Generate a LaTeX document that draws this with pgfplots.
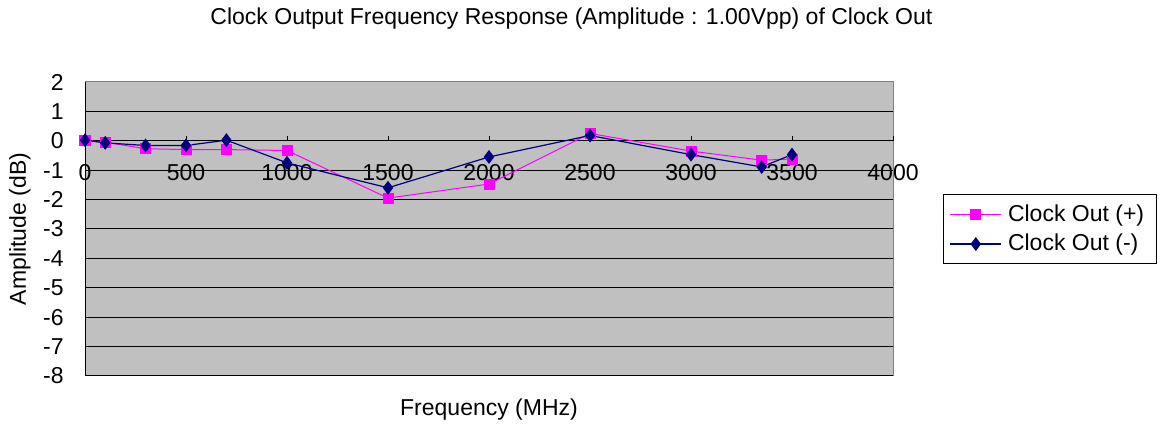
\documentclass[border=0pt]{standalone}
\usepackage{fontspec}
\setmainfont{Liberation Sans}
\usepackage{pgfplots}
\pgfplotsset{compat=1.18}
\definecolor{plotgray}{HTML}{C0C0C0}
\definecolor{cpink}{HTML}{FF00FF}
\definecolor{cnavy}{HTML}{000080}
\newcommand{\ff}{\fontsize{11.5}{13.5}\selectfont}
\begin{document}
\begin{tikzpicture}
\path[use as bounding box] (-42.5pt,-25pt) rectangle (537.5pt,188pt);
\begin{axis}[
  at={(0,0)}, anchor=south west,
  scale only axis, width=404pt, height=147pt,
  xmin=0, xmax=4000, ymin=-8, ymax=2,
  axis x line=middle, axis y line=left,
  axis line style={-, black, line width=0.5pt},
  hide obscured x ticks=false, hide obscured y ticks=false,
  xtick={0,500,...,4000}, ytick={-8,-7,...,2},
  xtick style={draw=none}, ytick style={draw=none},
  ymajorgrids, major grid style={black, line width=0.5pt},
  axis background/.style={fill=plotgray},
  /pgf/number format/assume math mode=true,
  /pgf/number format/1000 sep={},
  tick label style={font=\ff},
  xticklabel style={anchor=center, yshift=-14pt},
  yticklabel style={anchor=east, xshift=-5pt},
  xlabel={Frequency (MHz)},
  ylabel={Amplitude (dB)},
  label style={font=\ff},
  xlabel style={at={(axis description cs:0.5,0)}, anchor=center, yshift=-17pt},
  ylabel style={at={(axis description cs:0,0.5)}, anchor=center, yshift=32.5pt},
  title={Clock Output Frequency Response (Amplitude : 1.00Vpp) of Clock Out},
  title style={font=\ff, at={(axis description cs:0.602,1)}, anchor=center, yshift=25.5pt},
  legend style={at={(axis description cs:1.062,0.619)}, anchor=north west,
    font=\ff, draw=black, line width=0.5pt, fill=white, row sep=1pt, inner sep=3pt,
    nodes={inner xsep=3pt}},
  legend cell align=left,
  legend image code/.code={\draw[mark repeat=2,mark phase=2] plot coordinates {(0cm,0cm)(0.45cm,0cm)(0.9cm,0cm)};},
  clip=false,
]
\addplot[color=cpink, line width=0.5pt, mark=square*, mark size=2.5pt, mark options={fill=cpink, draw=cpink}]
  coordinates {(0,0.02) (100,-0.05) (300,-0.27) (500,-0.3) (700,-0.3) (1000,-0.33) (1500,-1.95) (2000,-1.47) (2500,0.25) (3000,-0.35) (3350,-0.66) (3500,-0.62)};
\addlegendentry{Clock Out (+)}
\addplot[color=cnavy, line width=0.6pt, mark=diamond*, mark size=3pt, mark options={fill=cnavy, draw=cnavy}]
  coordinates {(0,0.02) (100,-0.07) (300,-0.16) (500,-0.16) (700,0.02) (1000,-0.75) (1500,-1.6) (2000,-0.55) (2500,0.18) (3000,-0.47) (3350,-0.89) (3500,-0.47)};
\addlegendentry{Clock Out (-)}
\draw[gray, line width=0.5pt] (rel axis cs:0,1) -- (rel axis cs:1,1) -- (rel axis cs:1,0);
\pgfplotsinvokeforeach{500,1000,...,4000}{\draw[black, line width=0.5pt] (axis cs:#1,0) -- ([yshift=2.5pt]axis cs:#1,0);}
\end{axis}
\end{tikzpicture}
\end{document}
